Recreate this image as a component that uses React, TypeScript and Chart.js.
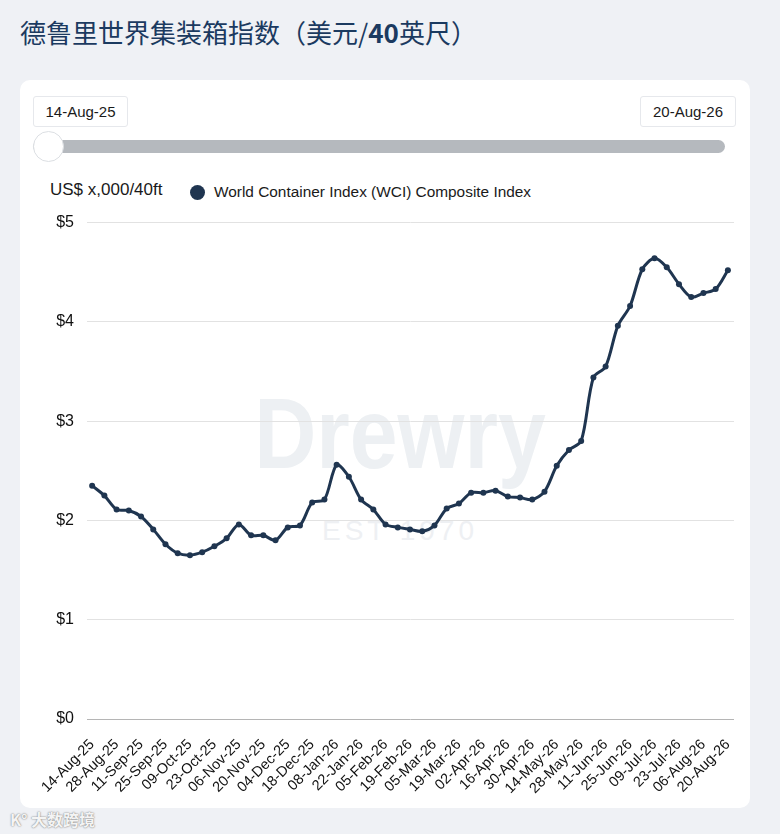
import React, { useEffect, useRef } from "react";
import { Chart, registerables } from "chart.js";

Chart.register(...registerables);

const dates: string[] = [
  "14-Aug-25", "21-Aug-25", "28-Aug-25", "04-Sep-25", "11-Sep-25", "18-Sep-25", "25-Sep-25",
  "02-Oct-25", "09-Oct-25", "16-Oct-25", "23-Oct-25", "30-Oct-25", "06-Nov-25", "13-Nov-25",
  "20-Nov-25", "27-Nov-25", "04-Dec-25", "11-Dec-25", "18-Dec-25", "25-Dec-25", "08-Jan-26",
  "15-Jan-26", "22-Jan-26", "29-Jan-26", "05-Feb-26", "12-Feb-26", "19-Feb-26", "26-Feb-26",
  "05-Mar-26", "12-Mar-26", "19-Mar-26", "26-Mar-26", "02-Apr-26", "09-Apr-26", "16-Apr-26",
  "23-Apr-26", "30-Apr-26", "07-May-26", "14-May-26", "21-May-26", "28-May-26", "04-Jun-26",
  "11-Jun-26", "18-Jun-26", "25-Jun-26", "02-Jul-26", "09-Jul-26", "16-Jul-26", "23-Jul-26",
  "30-Jul-26", "06-Aug-26", "13-Aug-26", "20-Aug-26",
];

const wciComposite: number[] = [
  2.35, 2.25, 2.11, 2.10, 2.04, 1.91, 1.76, 1.67, 1.65, 1.68, 1.74, 1.82, 1.96, 1.85,
  1.85, 1.80, 1.93, 1.95, 2.18, 2.21, 2.56, 2.44, 2.21, 2.11, 1.96, 1.93, 1.91, 1.89,
  1.95, 2.12, 2.17, 2.28, 2.28, 2.30, 2.24, 2.23, 2.21, 2.29, 2.55, 2.71, 2.80, 3.44,
  3.55, 3.96, 4.16, 4.53, 4.64, 4.55, 4.38, 4.25, 4.29, 4.33, 4.52,
];

const yTickValues: number[] = [0, 1, 2, 3, 4, 5];

const seriesName = "World Container Index (WCI) Composite Index";
const unitLabel = "US$ x,000/40ft";
const titleMain = "德鲁里世界集装箱指数（美元/";
const titleBold = "40";
const titleEnd = "英尺）";
const startLabel = "14-Aug-25";
const endLabel = "20-Aug-26";

const NAVY = "#1f3550";
const SANS = "'Liberation Sans', Arial, sans-serif";

export default function App() {
  const ref = useRef<HTMLCanvasElement>(null);

  useEffect(() => {
    document.body.style.margin = "0";
    const canvas = ref.current;
    if (!canvas) return;
    const chart = new Chart(canvas, {
      type: "line",
      data: {
        datasets: [
          {
            label: seriesName,
            data: wciComposite.map((v, i) => ({ x: i, y: v })),
            borderColor: NAVY,
            backgroundColor: NAVY,
            borderWidth: 3,
            pointRadius: 3,
            pointHoverRadius: 3,
            pointBorderWidth: 0,
            tension: 0.3,
          },
        ],
      },
      options: {
        animation: false,
        responsive: false,
        maintainAspectRatio: false,
        layout: { padding: { top: 22, right: 16, bottom: 0, left: 0 } },
        plugins: { legend: { display: false }, tooltip: { enabled: false } },
        scales: {
          x: {
            type: "linear",
            min: -0.42,
            max: 52.5,
            grid: { display: false, drawTicks: false },
            border: { display: false },
            afterBuildTicks: (axis: any) => {
              axis.ticks = dates
                .map((_, i) => ({ value: i }))
                .filter((t) => t.value % 2 === 0);
            },
            ticks: {
              autoSkip: false,
              maxRotation: 45,
              minRotation: 45,
              padding: 17,
              color: "#111111",
              font: { family: SANS, size: 14.5 },
              callback: (v: any) => dates[Number(v)] ?? "",
            },
            afterFit: (s: any) => {
              s.height = 81;
              s.paddingLeft = 0;
              s.paddingRight = 0;
            },
          },
          y: {
            type: "linear",
            min: 0,
            max: 5,
            afterBuildTicks: (axis: any) => {
              axis.ticks = yTickValues.map((v) => ({ value: v }));
            },
            grid: {
              drawTicks: false,
              color: (ctx: any) => (ctx.tick && ctx.tick.value === 0 ? "#b5b5b5" : "#e2e2e2"),
              lineWidth: 1,
            },
            border: { display: false },
            ticks: {
              padding: 13,
              color: "#111111",
              font: { family: SANS, size: 16 },
              callback: (v: any) => "$" + v,
            },
            afterFit: (s: any) => {
              s.width = 67;
            },
          },
        },
      },
    });
    return () => chart.destroy();
  }, []);

  const box: React.CSSProperties = {
    position: "absolute",
    top: 96,
    height: 29,
    border: "1px solid #e6e8ec",
    borderRadius: 3,
    background: "#fff",
    fontSize: 15,
    lineHeight: "29px",
    textAlign: "center",
    color: "#1a1a1a",
  };

  return (
    <div
      style={{
        position: "absolute",
        left: 0,
        top: 0,
        width: 780,
        height: 834,
        background: "#eff1f5",
        overflow: "hidden",
        fontFamily: SANS,
      }}
    >
      <div
        style={{
          position: "absolute",
          left: 20,
          top: 13,
          fontFamily: "'Noto Sans CJK SC', sans-serif",
          fontSize: 26,
          lineHeight: "38px",
          color: "#1b3a60",
          whiteSpace: "nowrap",
        }}
      >
        {titleMain}
        <span style={{ fontWeight: 700 }}>{titleBold}</span>
        {titleEnd}
      </div>

      <div
        style={{
          position: "absolute",
          left: 20,
          top: 80,
          width: 730,
          height: 728,
          background: "#ffffff",
          borderRadius: 10,
        }}
      />

      {/* date range boxes */}
      <div style={{ ...box, left: 33, width: 93 }}>{startLabel}</div>
      <div style={{ ...box, left: 640, width: 94 }}>{endLabel}</div>

      {/* slider */}
      <div
        style={{
          position: "absolute",
          left: 33,
          top: 140,
          width: 692,
          height: 13,
          borderRadius: 7,
          background: "#b5b9be",
        }}
      />
      <div
        style={{
          position: "absolute",
          left: 33,
          top: 131,
          width: 29,
          height: 29,
          borderRadius: "50%",
          background: "#ffffff",
          border: "1px solid #dcdfe3",
        }}
      />

      {/* unit label and legend */}
      <div
        style={{
          position: "absolute",
          left: 50,
          top: 179,
          fontSize: 17,
          lineHeight: "22px",
          color: "#1a1a1a",
          whiteSpace: "nowrap",
        }}
      >
        {unitLabel}
      </div>
      <div
        style={{
          position: "absolute",
          left: 190,
          top: 185,
          width: 15,
          height: 15,
          borderRadius: "50%",
          background: NAVY,
        }}
      />
      <div
        style={{
          position: "absolute",
          left: 214,
          top: 181,
          fontSize: 15.4,
          lineHeight: "22px",
          color: "#1a1a1a",
          whiteSpace: "nowrap",
        }}
      >
        {seriesName}
      </div>

      {/* Drewry watermark */}
      <div
        style={{
          position: "absolute",
          left: 150,
          width: 500,
          top: 378,
          textAlign: "center",
          fontSize: 100,
          fontWeight: 700,
          lineHeight: "110px",
          color: "#edf0f3",
          whiteSpace: "nowrap",
          transform: "scaleX(0.86)",
        }}
      >
        Drewry
      </div>
      <div
        style={{
          position: "absolute",
          left: 200,
          width: 400,
          top: 513,
          textAlign: "center",
          fontSize: 28,
          lineHeight: "36px",
          letterSpacing: 4,
          color: "#eef0f3",
          whiteSpace: "nowrap",
        }}
      >
        EST 1970
      </div>

      <canvas
        ref={ref}
        width={730}
        height={600}
        style={{ position: "absolute", left: 20, top: 200, width: 730, height: 600 }}
      />

      <div
        style={{
          position: "absolute",
          left: 10,
          top: 808,
          fontFamily: "'Noto Sans CJK SC', sans-serif",
          fontSize: 16,
          fontWeight: 700,
          lineHeight: "22px",
          color: "#f4f4f4",
          textShadow: "0 0 2px #8a8a8a, 0 0 1px #9a9a9a",
          whiteSpace: "nowrap",
        }}
      >
        K° 大数跨境
      </div>
    </div>
  );
}
